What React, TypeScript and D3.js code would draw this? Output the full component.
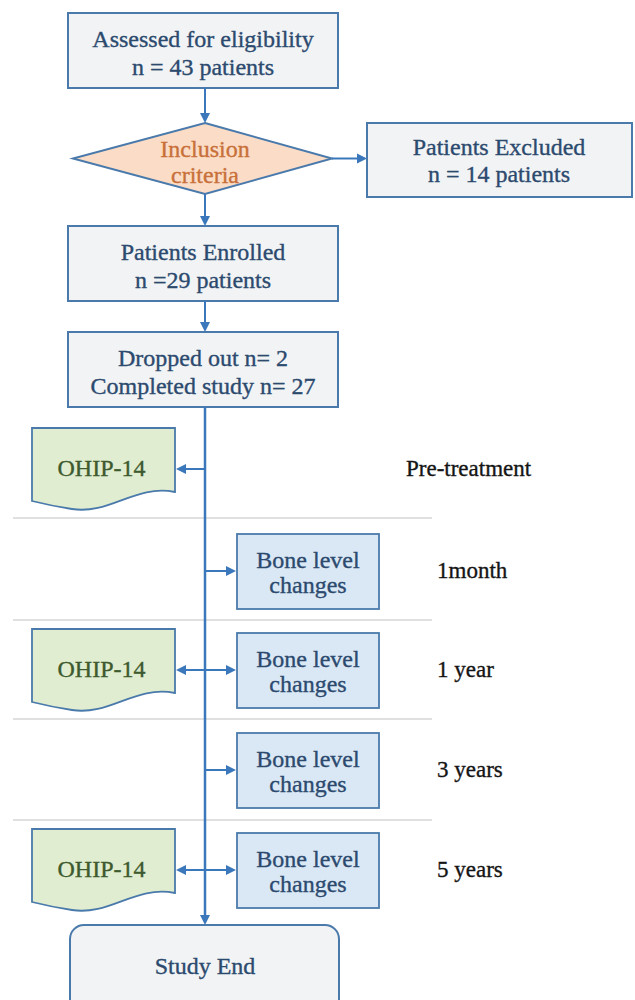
import React from "react";
import * as d3 from "d3";

const topBoxes = [
  { key: "assessed", lines: ["Assessed for eligibility", "n = 43 patients"] },
  { key: "enrolled", lines: ["Patients Enrolled", "n =29 patients"] },
  { key: "dropped", lines: ["Dropped out n= 2", "Completed study n= 27"] },
];
const diamondLines = ["Inclusion", "criteria"];
const excludedLines = ["Patients Excluded", "n = 14 patients"];
const timepoints = ["Pre-treatment", "1month", "1 year", "3 years", "5 years"];
const hasOhip = [true, false, true, false, true];
const hasBone = [false, true, true, true, true];
const ohipLabel = "OHIP-14";
const boneLines = ["Bone level", "changes"];
const endLabel = "Study End";

const BLUE = "#3b78bb";
const BORDER = "#4a7aab";
const TEXT = "#2c4a6e";
const FONT = "Liberation Serif, DejaVu Serif, serif";
const FS = 24;

export default function App() {
  const W = 635, H = 1000;
  const cx = 205;
  const yTop = d3.scaleOrdinal<string, number>().domain(topBoxes.map(b => b.key)).range([13, 226, 332]);
  const boxL = 68, boxR = 338, boxH = 75;
  const dTop = 123, dBot = 194, dL = 73, dR = 332;
  const dMid = (dTop + dBot) / 2;
  const rowYs = [469, 571, 670, 770, 870];
  const seps = [518, 620, 719, 820];
  const ohipL = 32, ohipR = 175;
  const boneL = 237, boneR = 379;
  const endTop = 925;

  const arrowHead = (x: number, y: number, dir: "down" | "left" | "right", s = 10) => {
    let pts: [number, number][];
    if (dir === "down") pts = [[x - s / 2, y - s], [x + s / 2, y - s], [x, y]];
    else if (dir === "left") pts = [[x + s, y - s / 2], [x + s, y + s / 2], [x, y]];
    else pts = [[x - s, y - s / 2], [x - s, y + s / 2], [x, y]];
    return <polygon points={pts.map(p => p.join(",")).join(" ")} fill={BLUE} />;
  };

  const docPath = (top: number) => {
    const bRight = top + 64, bLeft = top + 73;
    const p = d3.path();
    p.moveTo(ohipL, top);
    p.lineTo(ohipR, top);
    p.lineTo(ohipR, bRight);
    p.bezierCurveTo(ohipR - 40, bRight - 8, 110, bLeft + 14, ohipL + 40, bLeft + 8);
    p.bezierCurveTo(ohipL + 20, bLeft + 5, ohipL + 8, bLeft + 2, ohipL, bLeft);
    p.closePath();
    return p.toString();
  };

  const ts = (c: string) => ({ fontFamily: FONT, fill: c, stroke: c, strokeWidth: 0.35 } as React.CSSProperties);

  return (
    <svg width={W} height={H} style={{ display: "block", position: "absolute", left: 0, top: 0, fontFamily: FONT }}>
      <rect width={W} height={H} fill="#fff" />
      {seps.map((y, i) => (
        <line key={i} x1={13} x2={432} y1={y} y2={y} stroke="#d6d6d6" strokeWidth={1.5} />
      ))}
      {topBoxes.map(b => {
        const y = yTop(b.key);
        return (
          <g key={b.key}>
            <rect x={boxL} y={y} width={boxR - boxL} height={boxH} fill="#f1f3f5" stroke={BORDER} strokeWidth={2} />
            {b.lines.map((t, i) => (
              <text key={i} style={ts(TEXT)} x={(boxL + boxR) / 2} y={y + 34 + i * 28} textAnchor="middle" fontSize={FS}>{t}</text>
            ))}
          </g>
        );
      })}
      <line x1={cx} x2={cx} y1={88} y2={dTop - 8} stroke={BLUE} strokeWidth={2} />
      {arrowHead(cx, dTop, "down")}
      <polygon points={`${cx},${dTop} ${dR},${dMid} ${cx},${dBot} ${dL},${dMid}`} fill="#fbdcc6" stroke={BORDER} strokeWidth={2} />
      {diamondLines.map((t, i) => (
        <text key={i} style={ts("#c8703a")} x={cx} y={157 + i * 26} textAnchor="middle" fontSize={FS}>{t}</text>
      ))}
      <line x1={dR} x2={358} y1={dMid} y2={dMid} stroke={BLUE} strokeWidth={2} />
      {arrowHead(367, dMid, "right")}
      <rect x={367} y={123} width={265} height={74} fill="#f1f3f5" stroke={BORDER} strokeWidth={2} />
      {excludedLines.map((t, i) => (
        <text key={i} style={ts(TEXT)} x={499} y={155 + i * 27} textAnchor="middle" fontSize={FS}>{t}</text>
      ))}
      <line x1={cx} x2={cx} y1={dBot} y2={226 - 8} stroke={BLUE} strokeWidth={2} />
      {arrowHead(cx, 226, "down")}
      <line x1={cx} x2={cx} y1={301} y2={332 - 8} stroke={BLUE} strokeWidth={2} />
      {arrowHead(cx, 332, "down")}
      <line x1={cx} x2={cx} y1={407} y2={endTop - 8} stroke={BLUE} strokeWidth={2.5} />
      {arrowHead(cx, endTop, "down")}
      {timepoints.map((tp, i) => {
        const y = rowYs[i];
        return (
          <g key={tp}>
            {hasOhip[i] && (
              <g>
                <path d={docPath(y - 41)} fill="#e0edd0" stroke={BORDER} strokeWidth={1.8} />
                <text style={ts("#3d5a2e")} x={(ohipL + ohipR) / 2 - 2} y={y + 7} textAnchor="middle" fontSize={FS}>{ohipLabel}</text>
                <line x1={cx} x2={ohipR + 8} y1={y} y2={y} stroke={BLUE} strokeWidth={2} />
                {arrowHead(ohipR + 1, y, "left")}
              </g>
            )}
            {hasBone[i] && (
              <g>
                <rect x={boneL} y={y - 37} width={boneR - boneL} height={75} fill="#dae8f6" stroke={BORDER} strokeWidth={1.8} />
                {boneLines.map((t, j) => (
                  <text key={j} style={ts(TEXT)} x={(boneL + boneR) / 2} y={y - 3 + j * 25} textAnchor="middle" fontSize={FS}>{t}</text>
                ))}
                <line x1={cx} x2={boneL - 8} y1={y} y2={y} stroke={BLUE} strokeWidth={2} />
                {arrowHead(boneL - 1, y, "right")}
              </g>
            )}
            <text style={ts("#151515")} x={tp === "Pre-treatment" ? 406 : 437} y={y + 7} fontSize={23}>{tp}</text>
          </g>
        );
      })}
      <rect x={70} y={endTop} width={269} height={90} rx={14} ry={14} fill="#f1f3f5" stroke={BORDER} strokeWidth={2} />
      <text style={ts(TEXT)} x={cx} y={974} textAnchor="middle" fontSize={FS}>{endLabel}</text>
    </svg>
  );
}
